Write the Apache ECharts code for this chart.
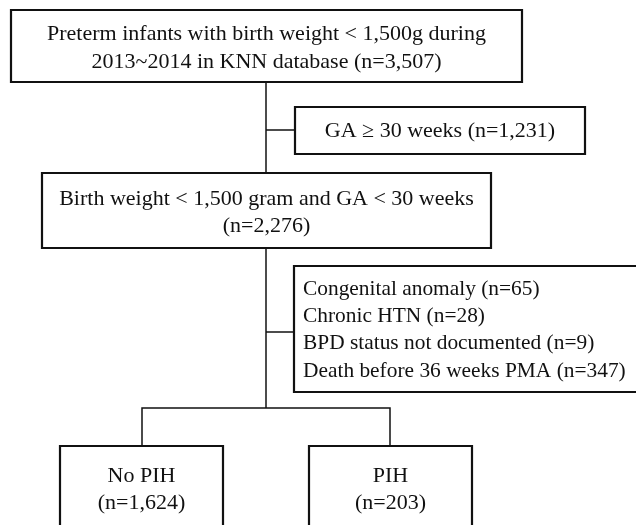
<!DOCTYPE html>
<html>
<head>
<meta charset="utf-8">
<script src="https://cdn.jsdelivr.net/npm/echarts@6/dist/echarts.min.js"></script>
<style>
  html, body { margin: 0; padding: 0; background: #fff; }
  #chart { width: 636px; height: 525px; }
</style>
</head>
<body>
<div id="chart"></div>
<script>
// flow chart texts
var topLines = ['Preterm infants with birth weight < 1,500g during', '2013~2014 in KNN database (n=3,507)']
var gaExclusion = ['GA \u2265 30 weeks (n=1,231)']
var mainLines = ['Birth weight < 1,500 gram and GA < 30 weeks', '(n=2,276)']
var exclusionItems = [
  'Congenital anomaly (n=65)',
  'Chronic HTN (n=28)',
  'BPD status not documented (n=9)',
  'Death before 36 weeks PMA (n=347)'
]
var groupNames = ['No PIH', 'PIH']
var groupCounts = ['(n=1,624)', '(n=203)']

var FONT = '"Liberation Serif", "Times New Roman", serif'
var INK = '#111'

function box (x, y, w, h) {
  return {
    type: 'rect',
    shape: { x: x, y: y, width: w, height: h },
    style: { fill: '#fff', stroke: INK, lineWidth: 2.2 }
  }
}

function line (pts) {
  return {
    type: 'polyline',
    shape: { points: pts },
    style: { stroke: INK, lineWidth: 1.5, fill: null }
  }
}

function textLines (lines, x, y0, step, align, size) {
  return lines.map(function (t, i) {
    return {
      type: 'text',
      style: {
        text: t,
        x: x,
        y: y0 + i * step,
        fill: INK,
        fontSize: size || 22,
        fontFamily: FONT,
        align: align || 'center',
        verticalAlign: 'middle'
      }
    }
  })
}

var elements = []
// connectors (drawn first, under the boxes)
elements.push(line([[266, 82], [266, 408]]))
elements.push(line([[266, 130], [295, 130]]))
elements.push(line([[266, 332], [294, 332]]))
elements.push(line([[142, 446], [142, 408], [390, 408], [390, 446]]))

// boxes
elements.push(box(11, 10, 511, 72))
elements.push(box(295, 107, 290, 47))
elements.push(box(42, 173, 449, 75))
elements.push(box(294, 266, 360, 126))
elements.push(box(60, 446, 163, 100))
elements.push(box(309, 446, 163, 100))

// texts
elements = elements.concat(textLines(topLines, 266.5, 34, 28))
elements = elements.concat(textLines(gaExclusion, 440, 131, 0))
elements = elements.concat(textLines(mainLines, 266.5, 199, 27))
elements = elements.concat(textLines(exclusionItems, 303, 289, 27.3, 'left', 21.4))
groupNames.forEach(function (g, i) {
  var cx = i === 0 ? 141.5 : 390.5
  elements = elements.concat(textLines([g, groupCounts[i]], cx, 476, 27))
})

var chart = echarts.init(document.getElementById('chart'))
chart.setOption({
  backgroundColor: '#fff',
  animation: false,
  graphic: { elements: elements }
})
</script>
</body>
</html>
